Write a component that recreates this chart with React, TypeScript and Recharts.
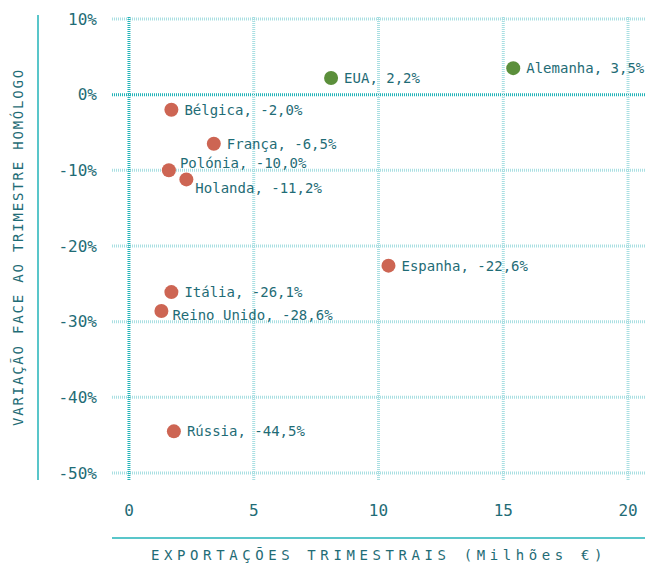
import { ReferenceLine, Scatter, ScatterChart, XAxis, YAxis } from "recharts"

const countries = ["EUA", "Alemanha", "Bélgica", "França", "Polónia", "Holanda", "Espanha", "Itália", "Reino Unido", "Rússia"]
const exportsM = [8.1, 15.4, 1.7, 3.4, 1.6, 2.3, 10.4, 1.7, 1.3, 1.8]
const changePct = [2.2, 3.5, -2.0, -6.5, -10.0, -11.2, -22.6, -26.1, -28.6, -44.5]

const xTicks = [0, 5, 10, 15, 20]
const yTicks = [10, 0, -10, -20, -30, -40, -50]

const labelShift: Record<string, [number, number]> = {
	"Polónia": [-2, -7],
	"Holanda": [-4, 9],
	"Reino Unido": [-2, 4],
}

const points = countries.map((name, i) => ({ name, x: exportsM[i], y: changePct[i] }))
const growth = points.filter((p) => p.y >= 0)
const decline = points.filter((p) => p.y < 0)

const font = "'DejaVu Sans Mono', monospace"
const textColor = "#1f6c76"
const gridColor = "#a9dfe2"
const zeroColor = "#22b3b8"

const fmt = (v: number) => v.toFixed(1).replace(".", ",") + "%"

const dot = (color: string) => (props: any) => {
	const { cx, cy, payload } = props
	const [dx, dy] = labelShift[payload.name] ?? [0, 0]
	return (
		<g>
			<circle cx={cx} cy={cy} r={7} fill={color} />
			<text x={cx + 13 + dx} y={cy + dy} dy="0.35em" fontSize={14} fill={textColor} fontFamily={font}>
				{payload.name}, {fmt(payload.y)}
			</text>
		</g>
	)
}

export default function App() {
	return (
		<div style={{ position: "absolute", left: 0, top: 0, width: 649, height: 565 }}>
			<ScatterChart width={649} height={565} margin={{ top: 17, right: 4, left: 0, bottom: 55 }}>
				<XAxis
					type="number"
					dataKey="x"
					domain={[-0.68, 20.68]}
					ticks={xTicks}
					axisLine={false}
					tickLine={false}
					tickSize={0}
					tickMargin={25}
					height={30}
					tick={{ fill: textColor, fontSize: 16, fontFamily: font }}
				/>
				<YAxis
					type="number"
					dataKey="y"
					domain={[-50.93, 10.26]}
					ticks={yTicks}
					axisLine={false}
					tickLine={false}
					tickSize={0}
					tickMargin={15}
					width={112}
					tickFormatter={(v) => `${v}%`}
					tick={{ fill: textColor, fontSize: 16, fontFamily: font }}
				/>
				{yTicks.map((t) => (
					<ReferenceLine key={"y" + t} y={t} stroke={t === 0 ? zeroColor : gridColor} strokeWidth={3} strokeDasharray="1 1" />
				))}
				{xTicks.map((t) => (
					<ReferenceLine key={"x" + t} x={t} stroke={t === 0 ? zeroColor : gridColor} strokeWidth={3} strokeDasharray="1 1" />
				))}
				<Scatter data={decline} shape={dot("#cd6553")} isAnimationActive={false} />
				<Scatter data={growth} shape={dot("#5b8f3b")} isAnimationActive={false} />
			</ScatterChart>
			<svg width={649} height={565} style={{ position: "absolute", left: 0, top: 0, pointerEvents: "none" }}>
				<line x1={38} y1={15} x2={38} y2={480} stroke={zeroColor} strokeWidth={1.5} />
				<line x1={112} y1={538} x2={645} y2={538} stroke={zeroColor} strokeWidth={1.5} />
				<text
					x={18}
					y={247}
					transform="rotate(-90 18 247)"
					textAnchor="middle"
					dy="0.35em"
					fontSize={14}
					letterSpacing={1.8}
					fill={textColor}
					fontFamily={font}
				>
					VARIAÇÃO FACE AO TRIMESTRE HOMÓLOGO
				</text>
				<text
					x={379}
					y={555}
					textAnchor="middle"
					dy="0.35em"
					fontSize={14}
					letterSpacing={4.6}
					fill={textColor}
					fontFamily={font}
				>
					EXPORTAÇÕES TRIMESTRAIS (Milhões €)
				</text>
			</svg>
		</div>
	)
}
